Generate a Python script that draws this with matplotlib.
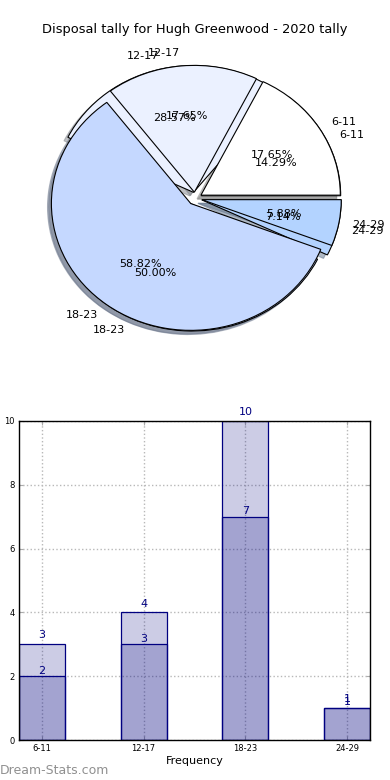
import matplotlib
matplotlib.use("Agg")
import matplotlib.pyplot as plt
import numpy as np

# ---- data ----
categories = ["6-11", "12-17", "18-23", "24-29"]
pie_front = [3, 3, 10, 1]      # 17.65 / 17.65 / 58.82 / 5.88 %
pie_back = [2, 4, 7, 1]        # 14.29 / 28.57 / 50.00 / 7.14 %
bar_light = [3, 4, 10, 1]
bar_dark = [2, 3, 7, 1]
yticks = [0, 2, 4, 6, 8, 10]
title = "Disposal tally for Hugh Greenwood - 2020 tally"

pie_colors = ["#ffffff", "#ebf1ff", "#c5d8ff", "#b3d3ff"]
explode = [0.05, 0.05, 0.05, 0.05]

W, H = 390, 780
fig = plt.figure(figsize=(W / 100, H / 100), dpi=100)

# ---- pie (top half) ----
axp = fig.add_axes([0, 0.5, 1, 0.5])
for vals in (pie_back, pie_front):
    axp.pie(vals, explode=explode, labels=categories, colors=pie_colors,
            autopct="%1.2f%%", shadow={"ox": -0.02, "oy": -0.02, "shade": 0.45},
            startangle=0,
            wedgeprops={"linewidth": 0.8, "edgecolor": "black"},
            textprops={"fontsize": 8})
axp.set_aspect("auto")
cx, cy, rx, ry = 195, 198.5, 139.4, 126.8
axp.set_xlim(-cx / rx, (390 - cx) / rx)
axp.set_ylim((cy - 390) / ry, cy / ry)
axp.axis("off")

fig.text(195 / W, 1 - 30 / H, title, ha="center", va="center", fontsize=9.4)

# ---- bar chart (bottom) ----
axb = fig.add_axes([19 / W, 1 - 740 / H, (370 - 19) / W, (740 - 421) / H])
x = np.arange(len(categories))
width = 0.45
face = (0, 0, 0.5, 0.2)
axb.bar(x, bar_light, width, color=face, edgecolor="navy", linewidth=0.9, zorder=3)
axb.bar(x, bar_dark, width, color=face, edgecolor="navy", linewidth=0.9, zorder=3)
for xi, v in zip(x, bar_light):
    axb.text(xi, v + 0.12, str(v), ha="center", va="bottom", fontsize=8, color="navy")
for xi, v in zip(x, bar_dark):
    axb.text(xi, v + 0.02, str(v), ha="center", va="bottom", fontsize=8, color="navy")
axb.set_xlim(-width / 2, len(categories) - 1 + width / 2)
axb.set_ylim(0, 10)
axb.set_xticks(x)
axb.set_xticklabels(categories)
axb.set_yticks(yticks)
axb.tick_params(labelsize=6, direction="in", top=True, right=True, length=3,
                color="#aaaaaa", pad=3)
axb.grid(True, linestyle=":", color="#b8b8b8", linewidth=1, zorder=1)
axb.set_axisbelow(True)
for s in axb.spines.values():
    s.set_linewidth(1)
    s.set_zorder(4)
axb.set_xlabel("Frequency", fontsize=8, labelpad=2)

fig.text(0, 1 - 770 / H, "Dream-Stats.com", ha="left", va="center",
         fontsize=9, color="#909090")

fig.savefig("out.png", dpi=100)
